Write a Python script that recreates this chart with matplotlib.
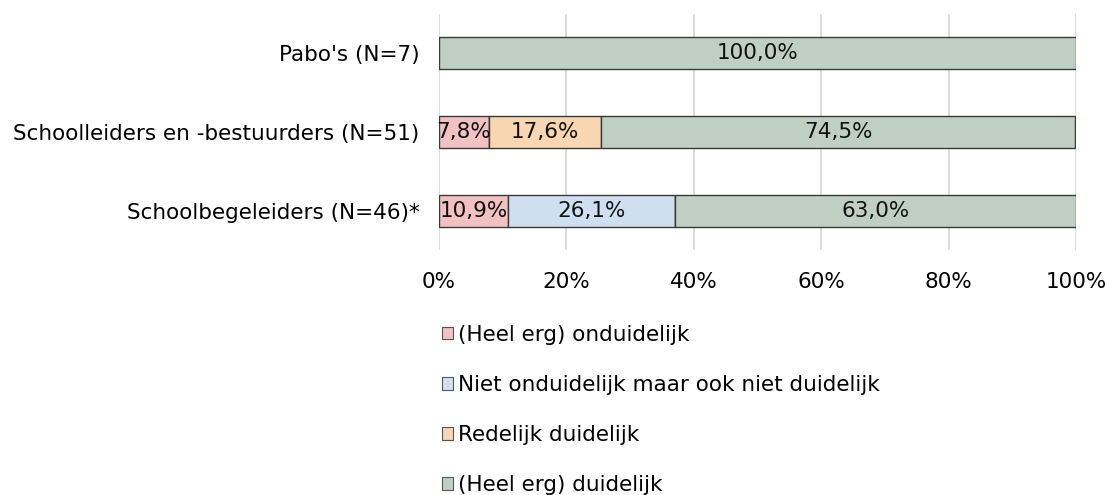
import matplotlib
matplotlib.use("Agg")
import matplotlib.pyplot as plt
from matplotlib.patches import Patch

categories = ["Schoolbegeleiders (N=46)*", "Schoolleiders en -bestuurders (N=51)", "Pabo's (N=7)"]
series_names = ["(Heel erg) onduidelijk", "Niet onduidelijk maar ook niet duidelijk",
                "Redelijk duidelijk", "(Heel erg) duidelijk"]
onduidelijk = [10.9, 7.8, 0.0]
neutraal = [26.1, 0.0, 0.0]
redelijk = [0.0, 17.6, 0.0]
duidelijk = [63.0, 74.5, 100.0]
colors = ["#F2C1C1", "#CEE0F0", "#F8D6B2", "#C0CFC4"]
xticks = [0, 20, 40, 60, 80, 100]
xticklabels = ["0%", "20%", "40%", "60%", "80%", "100%"]

plt.rcParams['font.family'] = ['DejaVu Sans']
fs = 15.5

fig = plt.figure(figsize=(11.1, 4.95), dpi=100)
ax = fig.add_axes([439/1110, 1-250/495, (1076-439)/1110, 236/495])

series = [onduidelijk, neutraal, redelijk, duidelijk]
y = list(range(len(categories)))
left = [0.0]*len(categories)
for vals, col in zip(series, colors):
    ax.barh(y, vals, left=left, height=0.41, color=col, edgecolor="#3a3a3a", linewidth=1.0, zorder=3)
    for i, v in enumerate(vals):
        if v > 0:
            ax.text(left[i] + v/2, y[i], f"{v:.1f}%".replace(".", ","), ha="center", va="center",
                    fontsize=fs, color="#111111", zorder=4)
    left = [l + v for l, v in zip(left, vals)]

ax.set_xlim(0, 100)
ax.set_ylim(-0.5, 2.5)
ax.set_yticks(y)
ax.set_yticklabels(categories, fontsize=fs)
ax.set_xticks(xticks)
ax.set_xticklabels(xticklabels, fontsize=fs)
ax.tick_params(axis="both", length=0)
ax.tick_params(axis="x", pad=16)
ax.tick_params(axis="y", pad=14)
for s in ax.spines.values():
    s.set_visible(False)
ax.grid(axis="x", color="#d9d9d9", linewidth=1.3, zorder=0)

handles = [Patch(facecolor=c, edgecolor="#555555", linewidth=0.8) for c in colors]
fig.legend(handles, series_names, loc="upper left", bbox_to_anchor=(433/1110, 1-316/495),
           frameon=False, fontsize=fs, handlelength=0.55, handleheight=0.55, handletextpad=0.2,
           labelspacing=1.40, borderaxespad=0)

fig.savefig("out.png", dpi=100)
